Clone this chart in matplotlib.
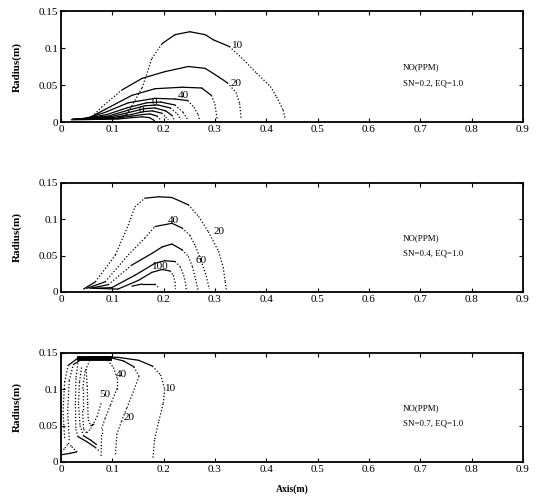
import matplotlib.pyplot as plt

plt.rcParams['font.family'] = ['Liberation Serif', 'DejaVu Serif']

# axis ticks
x_ticks = [0, 0.1, 0.2, 0.3, 0.4, 0.5, 0.6, 0.7, 0.8, 0.9]
x_tick_labels = ['0', '0.1', '0.2', '0.3', '0.4', '0.5', '0.6', '0.7', '0.8', '0.9']
y_ticks = [0, 0.05, 0.1, 0.15]
y_tick_labels = ['0', '0.05', '0.1', '0.15']

case_labels = ['SN=0.2, EQ=1.0', 'SN=0.4, EQ=1.0', 'SN=0.7, EQ=1.0']

# ---- SN=0.2 : NO iso-lines (axis, radius) ----
p1_c10 = [(0.067, 0.004), (0.111, 0.005), (0.128, 0.010), (0.158, 0.046), (0.177, 0.086),
          (0.197, 0.106), (0.222, 0.118), (0.251, 0.122), (0.281, 0.118), (0.297, 0.111),
          (0.328, 0.102), (0.356, 0.084), (0.381, 0.066), (0.408, 0.048), (0.420, 0.034),
          (0.433, 0.016), (0.437, 0.003)]
p1_c20 = [(0.056, 0.004), (0.079, 0.020), (0.118, 0.043), (0.158, 0.059), (0.202, 0.068),
          (0.248, 0.075), (0.281, 0.0725), (0.307, 0.061), (0.324, 0.053), (0.341, 0.040),
          (0.348, 0.025), (0.351, 0.004)]
p1_c30 = [(0.050, 0.004), (0.086, 0.017), (0.138, 0.036), (0.183, 0.045), (0.236, 0.047),
          (0.274, 0.046), (0.293, 0.036), (0.300, 0.024), (0.304, 0.004)]
p1_c40 = [(0.044, 0.004), (0.086, 0.013), (0.131, 0.026), (0.183, 0.032), (0.222, 0.031),
          (0.247, 0.029), (0.259, 0.020), (0.267, 0.010), (0.270, 0.003)]
p1_c50 = [(0.039, 0.004), (0.089, 0.010), (0.128, 0.019), (0.167, 0.026), (0.194, 0.027),
          (0.222, 0.023), (0.238, 0.013), (0.247, 0.003)]
p1_c60 = [(0.033, 0.004), (0.092, 0.008), (0.131, 0.016), (0.164, 0.022), (0.189, 0.023),
          (0.213, 0.019), (0.227, 0.011), (0.233, 0.003)]
p1_c70 = [(0.029, 0.004), (0.096, 0.007), (0.133, 0.013), (0.162, 0.018), (0.183, 0.019),
          (0.204, 0.015), (0.216, 0.009), (0.221, 0.003)]
p1_c80 = [(0.024, 0.004), (0.100, 0.006), (0.136, 0.010), (0.160, 0.014), (0.178, 0.015),
          (0.196, 0.012), (0.204, 0.007), (0.209, 0.003)]
p1_c90 = [(0.022, 0.004), (0.106, 0.005), (0.138, 0.008), (0.158, 0.010), (0.173, 0.011),
          (0.187, 0.008), (0.194, 0.003)]
p1_c100 = [(0.020, 0.003), (0.111, 0.004), (0.140, 0.006), (0.158, 0.007), (0.172, 0.006),
           (0.182, 0.002)]
p1_lines = [p1_c10, p1_c20, p1_c30, p1_c40, p1_c50, p1_c60, p1_c70, p1_c80, p1_c90, p1_c100]
p1_labels = [('10', 0.343, 0.103), ('20', 0.341, 0.052), ('40', 0.239, 0.036),
             ('0', 0.181, 0.027), ('0', 0.156, 0.016)]

# ---- SN=0.4 ----
p2_c20 = [(0.044, 0.004), (0.067, 0.014), (0.106, 0.051), (0.131, 0.092), (0.144, 0.117),
          (0.163, 0.129), (0.190, 0.131), (0.216, 0.130), (0.248, 0.120), (0.268, 0.104),
          (0.287, 0.083), (0.307, 0.056), (0.316, 0.034), (0.320, 0.014), (0.322, 0.003)]
p2_c40 = [(0.050, 0.005), (0.086, 0.014), (0.131, 0.051), (0.163, 0.074), (0.183, 0.090),
          (0.216, 0.0945), (0.236, 0.088), (0.251, 0.078), (0.262, 0.063), (0.273, 0.043),
          (0.283, 0.022), (0.289, 0.004)]
p2_c60 = [(0.056, 0.005), (0.092, 0.010), (0.138, 0.037), (0.177, 0.053), (0.197, 0.062),
          (0.216, 0.066), (0.236, 0.058), (0.248, 0.049), (0.256, 0.035), (0.262, 0.018),
          (0.267, 0.003)]
p2_c80 = [(0.061, 0.005), (0.099, 0.006), (0.144, 0.023), (0.183, 0.0395), (0.202, 0.043),
          (0.222, 0.042), (0.232, 0.035), (0.239, 0.023), (0.243, 0.010), (0.244, 0.003)]
p2_c100 = [(0.067, 0.005), (0.111, 0.004), (0.151, 0.016), (0.177, 0.027), (0.197, 0.031),
           (0.212, 0.029), (0.219, 0.023), (0.222, 0.014), (0.223, 0.004)]
p2_c120 = [(0.138, 0.008), (0.158, 0.011), (0.183, 0.011), (0.190, 0.006)]
p2_lines = [p2_c20, p2_c40, p2_c60, p2_c80, p2_c100, p2_c120]
p2_labels = [('20', 0.307, 0.083), ('40', 0.219, 0.099), ('60', 0.272, 0.043),
             ('100', 0.194, 0.035)]

# ---- SN=0.7 ----
p3_c10 = [(0.007, 0.033), (0.004, 0.069), (0.007, 0.110), (0.014, 0.133), (0.033, 0.143),
          (0.067, 0.145), (0.111, 0.144), (0.151, 0.140), (0.178, 0.132), (0.194, 0.120),
          (0.202, 0.100), (0.199, 0.080), (0.190, 0.055), (0.182, 0.030), (0.179, 0.004)]
p3_c20 = [(0.016, 0.030), (0.013, 0.070), (0.016, 0.112), (0.024, 0.134), (0.044, 0.143),
          (0.094, 0.144), (0.122, 0.139), (0.142, 0.131), (0.152, 0.118), (0.141, 0.097),
          (0.128, 0.074), (0.118, 0.056), (0.109, 0.039), (0.106, 0.010)]
p3_c40 = [(0.067, 0.144), (0.091, 0.140), (0.102, 0.130), (0.109, 0.116), (0.109, 0.101),
          (0.096, 0.078), (0.086, 0.060), (0.079, 0.046), (0.079, 0.037), (0.078, 0.008)]
p3_c50 = [(0.056, 0.140), (0.047, 0.125), (0.042, 0.100), (0.042, 0.070), (0.044, 0.045),
          (0.050, 0.040), (0.058, 0.046), (0.070, 0.062), (0.079, 0.083)]
p3_c60 = [(0.033, 0.136), (0.029, 0.115), (0.028, 0.080), (0.029, 0.045), (0.033, 0.035),
          (0.050, 0.028), (0.067, 0.020), (0.076, 0.014)]
p3_c70 = [(0.040, 0.130), (0.036, 0.110), (0.034, 0.080), (0.037, 0.050), (0.044, 0.036),
          (0.058, 0.030), (0.069, 0.024)]
p3_c80 = [(0.049, 0.128), (0.051, 0.105), (0.052, 0.080), (0.053, 0.058), (0.058, 0.050),
          (0.064, 0.052)]
p3_hook = [(0.000, 0.014), (0.008, 0.019), (0.014, 0.026), (0.021, 0.021), (0.031, 0.014),
           (0.018, 0.012), (0.001, 0.010)]
p3_band = [(0.035, 0.1425), (0.094, 0.1425)]
p3_lines = [p3_c10, p3_c20, p3_c40, p3_c50, p3_c60, p3_c70, p3_c80, p3_hook]
p3_labels = [('10', 0.214, 0.101), ('20', 0.133, 0.061), ('40', 0.117, 0.120),
             ('50', 0.086, 0.093)]

panels = [(p1_lines, p1_labels, None),
          (p2_lines, p2_labels, None),
          (p3_lines, p3_labels, p3_band)]

fig = plt.figure(figsize=(5.39, 4.98), dpi=100)
axes_boxes = [[0.1132, 0.755, 0.857, 0.2229],
              [0.1132, 0.4137, 0.857, 0.2189],
              [0.1132, 0.0723, 0.857, 0.2189]]


def draw_line(ax, pts):
    # steep parts printed as dots, flat crests solid
    for (x0, y0), (x1, y1) in zip(pts[:-1], pts[1:]):
        dx = abs(x1 - x0) * 513
        dy = abs(y1 - y0) * 727
        if dy > 0.8 * dx:
            ax.plot([x0, x1], [y0, y1], color='black', lw=0.9, ls=(0, (1, 1.6)))
        else:
            ax.plot([x0, x1], [y0, y1], color='black', lw=0.9, solid_capstyle='round')


for i, (lines, labels, band) in enumerate(panels):
    ax = fig.add_axes(axes_boxes[i])
    for pts in lines:
        draw_line(ax, pts)
    if band is not None:
        ax.plot([p[0] for p in band], [p[1] for p in band], color='black', lw=3.5)
    for txt, lx, ly in labels:
        ax.text(lx, ly, txt, fontsize=8, ha='center', va='center')

    ax.text(0.74, 0.49, 'NO(PPM)', transform=ax.transAxes, fontsize=6.4, va='center')
    ax.text(0.74, 0.35, case_labels[i], transform=ax.transAxes, fontsize=6.4, va='center')

    ax.set_xlim(0, 0.9)
    ax.set_ylim(0, 0.15)
    ax.set_xticks(x_ticks)
    ax.set_xticklabels(x_tick_labels)
    ax.set_yticks(y_ticks)
    ax.set_yticklabels(y_tick_labels)
    ax.tick_params(direction='in', length=3, width=0.8, labelsize=8, pad=2,
                   top=True, right=True)
    for s in ax.spines.values():
        s.set_linewidth(1.3)
    ax.set_ylabel('Radius(m)', fontsize=8, fontweight='bold')
    ax.yaxis.set_label_coords(-0.084, 0.5)

ax.set_xlabel('Axis(m)', fontsize=7, fontweight='bold')
ax.xaxis.set_label_coords(0.50, -0.21)

fig.savefig('out.png', dpi=100)
